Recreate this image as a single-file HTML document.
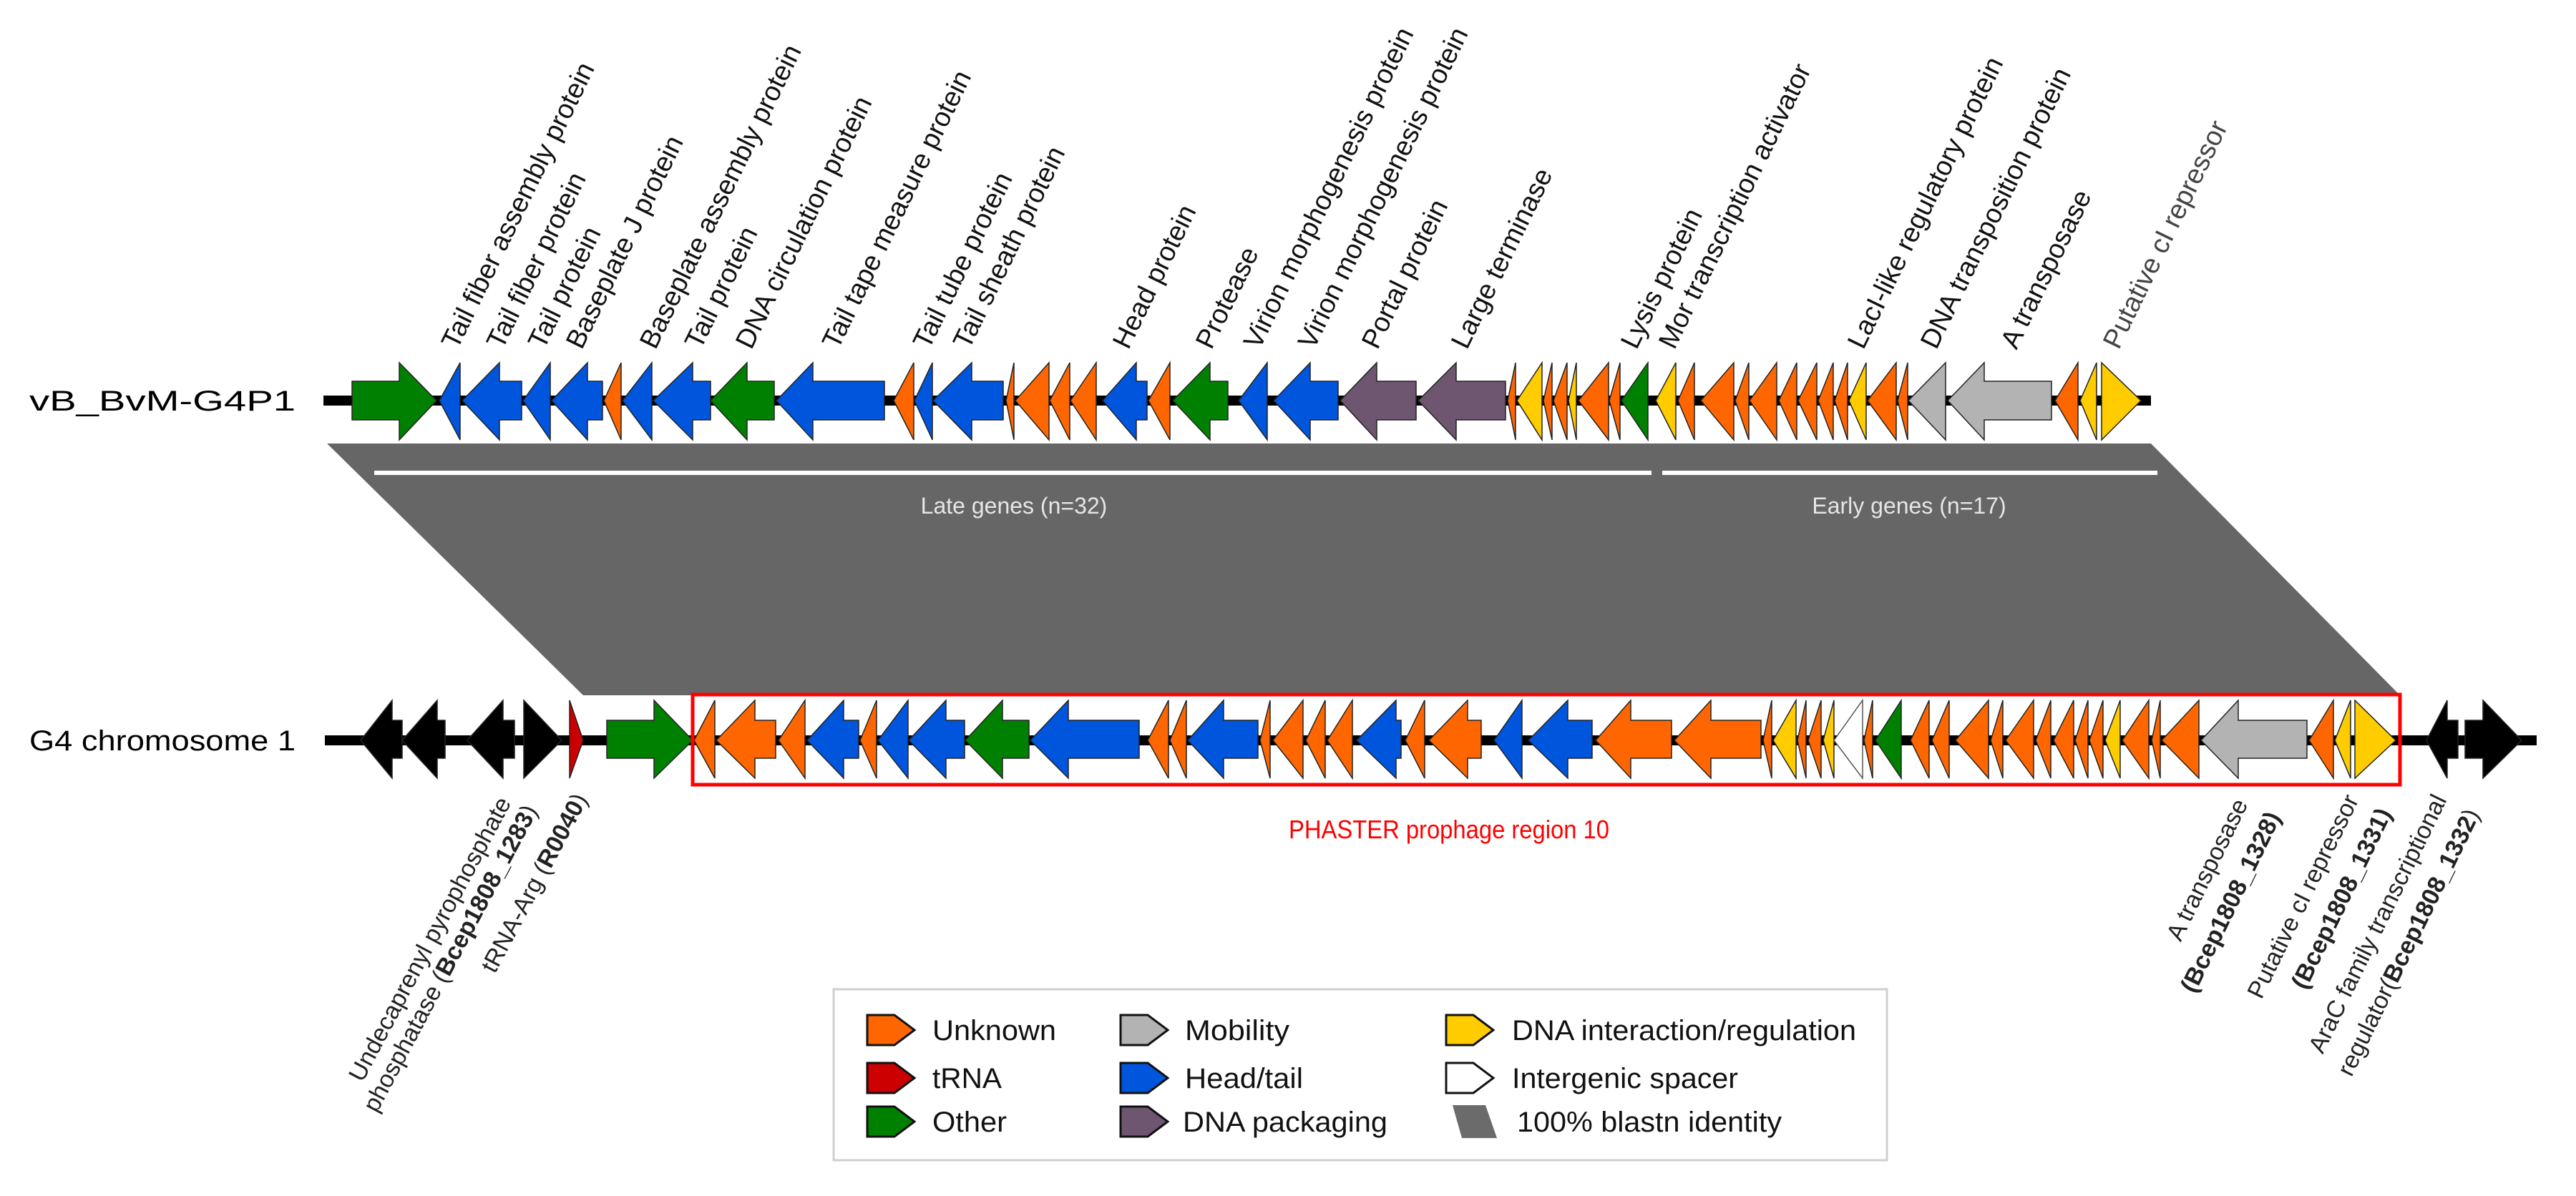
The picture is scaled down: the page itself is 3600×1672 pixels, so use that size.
<!DOCTYPE html>
<html><head><meta charset="utf-8"><style>
html,body{margin:0;padding:0;background:#fff}
svg{display:block}
text{font-family:"Liberation Sans",Arial,sans-serif}
</style></head><body>
<svg width="3600" height="1672" viewBox="0 0 3600 1672" xmlns="http://www.w3.org/2000/svg">
<rect width="3600" height="1672" fill="#fff"/>
<!-- band -->
<polygon points="457,620 3006,620 3354,972 815,972" fill="#666666"/>
<rect x="523" y="658" width="1785" height="6" fill="#fff"/>
<rect x="2323" y="658" width="692" height="6" fill="#fff"/>
<text x="1417" y="718" font-size="32" fill="#e6e6e6" text-anchor="middle">Late genes (n=32)</text>
<text x="2668" y="718" font-size="32" fill="#e6e6e6" text-anchor="middle">Early genes (n=17)</text>

<!-- track lines -->
<rect x="452" y="553" width="2554" height="14" fill="#000"/>
<rect x="454" y="1028" width="3091" height="14" fill="#000"/>

<text x="41" y="574" font-size="40" textLength="372" lengthAdjust="spacingAndGlyphs">vB_BvM-G4P1</text>
<text x="41" y="1049" font-size="40" textLength="372" lengthAdjust="spacingAndGlyphs">G4 chromosome 1</text>

<g stroke="#222" stroke-width="1.5" stroke-linejoin="miter">
<!-- TOP TRACK -->
<polygon fill="#008000" points="492,533 558,533 558,507 610,560 558,615 558,587 492,587"/>
<polygon fill="#0055dd" points="614,560 643,507 643,615"/>
<polygon fill="#0055dd" points="646,560 698,507 698,533 729,533 729,587 698,587 698,615"/>
<polygon fill="#0055dd" points="731,560 769,507 769,615"/>
<polygon fill="#0055dd" points="771,560 821,507 821,533 842,533 842,587 821,587 821,615"/>
<polygon fill="#ff6600" points="844,560 868,507 868,615"/>
<polygon fill="#0055dd" points="870,560 911,507 911,615"/>
<polygon fill="#0055dd" points="913,560 968,507 968,533 993,533 993,587 968,587 968,615"/>
<polygon fill="#008000" points="993,560 1044,507 1044,533 1082,533 1082,587 1044,587 1044,615"/>
<polygon fill="#0055dd" points="1085,560 1136,507 1136,533 1236,533 1236,587 1136,587 1136,615"/>
<polygon fill="#ff6600" points="1249,560 1277,507 1277,615"/>
<polygon fill="#0055dd" points="1278,560 1303,507 1303,615"/>
<polygon fill="#0055dd" points="1304,560 1358,507 1358,533 1402,533 1402,587 1358,587 1358,615"/>
<polygon fill="#ff6600" points="1406,560 1417,507 1417,615"/>
<polygon fill="#ff6600" points="1419,560 1466,507 1466,615"/>
<polygon fill="#ff6600" points="1467,560 1495,507 1495,615"/>
<polygon fill="#ff6600" points="1496,560 1532,507 1532,615"/>
<polygon fill="#0055dd" points="1541,560 1588,507 1588,533 1603,533 1603,587 1588,587 1588,615"/>
<polygon fill="#ff6600" points="1605,560 1635,507 1635,615"/>
<polygon fill="#008000" points="1639,560 1691,507 1691,533 1716,533 1716,587 1691,587 1691,615"/>
<polygon fill="#0055dd" points="1731,560 1771,507 1771,615"/>
<polygon fill="#0055dd" points="1780,560 1831,507 1831,533 1870,533 1870,587 1831,587 1831,615"/>
<polygon fill="#6e5570" points="1873,560 1924,507 1924,533 1979,533 1979,587 1924,587 1924,615"/>
<polygon fill="#6e5570" points="1982,560 2035,507 2035,533 2104,533 2104,587 2035,587 2035,615"/>
<polygon fill="#ff6600" points="2107,560 2118,507 2118,615"/>
<polygon fill="#ffcc00" points="2120,560 2155,507 2155,615"/>
<polygon fill="#ff6600" points="2157,560 2169,507 2169,615"/>
<polygon fill="#ff6600" points="2171,560 2190,507 2190,615"/>
<polygon fill="#ffcc00" points="2192,560 2203,507 2203,615"/>
<polygon fill="#ff6600" points="2206,560 2248,507 2248,615"/>
<polygon fill="#ff6600" points="2249,560 2264,507 2264,615"/>
<polygon fill="#008000" points="2266,560 2303,507 2303,615"/>
<polygon fill="#ffcc00" points="2314,560 2342,507 2342,615"/>
<polygon fill="#ff6600" points="2345,560 2368,507 2368,615"/>
<polygon fill="#ff6600" points="2377,560 2423,507 2423,615"/>
<polygon fill="#ff6600" points="2425,560 2444,507 2444,615"/>
<polygon fill="#ff6600" points="2445,560 2483,507 2483,615"/>
<polygon fill="#ff6600" points="2486,560 2511,507 2511,615"/>
<polygon fill="#ff6600" points="2513,560 2539,507 2539,615"/>
<polygon fill="#ff6600" points="2541,560 2562,507 2562,615"/>
<polygon fill="#ff6600" points="2564,560 2582,507 2582,615"/>
<polygon fill="#ffcc00" points="2584,560 2608,507 2608,615"/>
<polygon fill="#ff6600" points="2610,560 2650,507 2650,615"/>
<polygon fill="#ff6600" points="2652,560 2666,507 2666,615"/>
<polygon fill="#b3b3b3" points="2667,560 2719,507 2719,615"/>
<polygon fill="#b3b3b3" points="2722,560 2773,507 2773,533 2867,533 2867,587 2773,587 2773,615"/>
<polygon fill="#ff6600" points="2872,560 2904,507 2904,615"/>
<polygon fill="#ffcc00" points="2907,560 2930,507 2930,615"/>
<polygon fill="#ffcc00" points="2937,507 2992,560 2937,615"/>

<!-- BOTTOM TRACK -->
<polygon fill="#000" points="504,1035 548,979 548,1007 562,1007 562,1060 548,1060 548,1088"/>
<polygon fill="#000" points="562,1035 611,979 611,1007 622,1007 622,1060 611,1060 611,1088"/>
<polygon fill="#000" points="653,1035 703,979 703,1007 719,1007 719,1060 703,1060 703,1088"/>
<polygon fill="#000" points="732,979 785,1035 732,1088"/>
<polygon fill="#cc0000" points="796,979 815,1035 796,1088"/>
<polygon fill="#008000" points="848,1007 914,1007 914,979 968,1035 914,1088 914,1060 848,1060"/>
<polygon fill="#ff6600" points="970,1035 999,979 999,1088"/>
<polygon fill="#ff6600" points="1001,1035 1055,979 1055,1007 1084,1007 1084,1060 1055,1060 1055,1088"/>
<polygon fill="#ff6600" points="1088,1035 1125,979 1125,1088"/>
<polygon fill="#0055dd" points="1128,1035 1179,979 1179,1007 1200,1007 1200,1060 1179,1060 1179,1088"/>
<polygon fill="#ff6600" points="1202,1035 1225,979 1225,1088"/>
<polygon fill="#0055dd" points="1227,1035 1269,979 1269,1088"/>
<polygon fill="#0055dd" points="1270,1035 1322,979 1322,1007 1348,1007 1348,1060 1322,1060 1322,1088"/>
<polygon fill="#008000" points="1349,1035 1401,979 1401,1007 1438,1007 1438,1060 1401,1060 1401,1088"/>
<polygon fill="#0055dd" points="1440,1035 1493,979 1493,1007 1592,1007 1592,1060 1493,1060 1493,1088"/>
<polygon fill="#ff6600" points="1604,1035 1633,979 1633,1088"/>
<polygon fill="#ff6600" points="1635,1035 1658,979 1658,1088"/>
<polygon fill="#0055dd" points="1660,1035 1710,979 1710,1007 1758,1007 1758,1060 1710,1060 1710,1088"/>
<polygon fill="#ff6600" points="1761,1035 1775,979 1775,1088"/>
<polygon fill="#ff6600" points="1779,1035 1821,979 1821,1088"/>
<polygon fill="#ff6600" points="1825,1035 1852,979 1852,1088"/>
<polygon fill="#ff6600" points="1855,1035 1890,979 1890,1088"/>
<polygon fill="#0055dd" points="1896,1035 1951,979 1951,1007 1958,1007 1958,1060 1951,1060 1951,1088"/>
<polygon fill="#ff6600" points="1964,1035 1991,979 1991,1088"/>
<polygon fill="#ff6600" points="1997,1035 2051,979 2051,1007 2070,1007 2070,1060 2051,1060 2051,1088"/>
<polygon fill="#0055dd" points="2088,1035 2127,979 2127,1088"/>
<polygon fill="#0055dd" points="2136,1035 2191,979 2191,1007 2225,1007 2225,1060 2191,1060 2191,1088"/>
<polygon fill="#ff6600" points="2230,1035 2279,979 2279,1007 2336,1007 2336,1060 2279,1060 2279,1088"/>
<polygon fill="#ff6600" points="2340,1035 2391,979 2391,1007 2461,1007 2461,1060 2391,1060 2391,1088"/>
<polygon fill="#ff6600" points="2464,1035 2476,979 2476,1088"/>
<polygon fill="#ffcc00" points="2478,1035 2510,979 2510,1088"/>
<polygon fill="#ff6600" points="2512,1035 2524,979 2524,1088"/>
<polygon fill="#ff6600" points="2527,1035 2545,979 2545,1088"/>
<polygon fill="#ffcc00" points="2548,1035 2563,979 2563,1088"/>
<polygon fill="#ffffff" stroke="#555" points="2563,1035 2603,979 2603,1088"/>
<polygon fill="#ff6600" points="2605,1035 2617,979 2617,1088"/>
<polygon fill="#008000" points="2621,1035 2657,979 2657,1088"/>
<polygon fill="#ff6600" points="2670,1035 2696,979 2696,1088"/>
<polygon fill="#ff6600" points="2700,1035 2724,979 2724,1088"/>
<polygon fill="#ff6600" points="2733,1035 2779,979 2779,1088"/>
<polygon fill="#ff6600" points="2782,1035 2799,979 2799,1088"/>
<polygon fill="#ff6600" points="2803,1035 2842,979 2842,1088"/>
<polygon fill="#ff6600" points="2845,1035 2866,979 2866,1088"/>
<polygon fill="#ff6600" points="2870,1035 2898,979 2898,1088"/>
<polygon fill="#ff6600" points="2900,1035 2918,979 2918,1088"/>
<polygon fill="#ff6600" points="2920,1035 2939,979 2939,1088"/>
<polygon fill="#ffcc00" points="2942,1035 2963,979 2963,1088"/>
<polygon fill="#ff6600" points="2966,1035 3003,979 3003,1088"/>
<polygon fill="#ff6600" points="3007,1035 3019,979 3019,1088"/>
<polygon fill="#ff6600" points="3021,1035 3073,979 3073,1088"/>
<polygon fill="#b3b3b3" points="3076,1035 3128,979 3128,1007 3224,1007 3224,1060 3128,1060 3128,1088"/>
<polygon fill="#ff6600" points="3227,1035 3261,979 3261,1088"/>
<polygon fill="#ffcc00" points="3263,1035 3285,979 3285,1088"/>
<polygon fill="#ffcc00" points="3291,979 3348,1035 3291,1088"/>
<polygon fill="#000" points="3391,1035 3420,979 3420,1007 3435,1007 3435,1060 3420,1060 3420,1088"/>
<polygon fill="#000" points="3445,1007 3470,1007 3470,979 3524,1035 3470,1088 3470,1060 3445,1060"/>
</g>

<rect x="968" y="971" width="2386" height="126" fill="none" stroke="#ff0000" stroke-width="5"/>
<text x="2025" y="1172" font-size="36" fill="#ff0000" text-anchor="middle" textLength="448" lengthAdjust="spacingAndGlyphs">PHASTER prophage region 10</text>

<!-- top labels -->
<g font-size="38" fill="#111">
<text x="639" y="490" transform="rotate(-64 639 490)">Tail fiber assembly protein</text>
<text x="702" y="490" transform="rotate(-64 702 490)">Tail fiber protein</text>
<text x="760" y="490" transform="rotate(-64 760 490)">Tail protein</text>
<text x="813" y="490" transform="rotate(-64 813 490)">Baseplate J protein</text>
<text x="916" y="490" transform="rotate(-64 916 490)">Baseplate assembly protein</text>
<text x="979" y="490" transform="rotate(-64 979 490)">Tail protein</text>
<text x="1050" y="490" transform="rotate(-64 1050 490)">DNA circulation protein</text>
<text x="1171" y="490" transform="rotate(-64 1171 490)">Tail tape measure protein</text>
<text x="1298" y="490" transform="rotate(-64 1298 490)">Tail tube protein</text>
<text x="1354" y="490" transform="rotate(-64 1354 490)">Tail sheath protein</text>
<text x="1577" y="490" transform="rotate(-64 1577 490)">Head protein</text>
<text x="1693" y="490" transform="rotate(-64 1693 490)">Protease</text>
<text x="1760" y="490" transform="rotate(-64 1760 490)">Virion morphogenesis protein</text>
<text x="1836" y="490" transform="rotate(-64 1836 490)">Virion morphogenesis protein</text>
<text x="1925" y="490" transform="rotate(-64 1925 490)">Portal protein</text>
<text x="2050" y="490" transform="rotate(-64 2050 490)">Large terminase</text>
<text x="2287" y="490" transform="rotate(-64 2287 490)">Lysis protein</text>
<text x="2340" y="490" transform="rotate(-64 2340 490)">Mor transcription activator</text>
<text x="2604" y="490" transform="rotate(-64 2604 490)">LacI-like regulatory protein</text>
<text x="2706" y="490" transform="rotate(-64 2706 490)">DNA transposition protein</text>
<text x="2818" y="490" transform="rotate(-64 2818 490)">A transposase</text>
<text x="2961" y="490" transform="rotate(-64 2961 490)" fill="#444">Putative  cI repressor</text>
</g>

<!-- bottom labels -->
<g font-size="34" fill="#222" text-anchor="end">
<text x="715" y="1122" transform="rotate(-62 715 1122)">Undecaprenyl pyrophosphate</text>
<text x="752" y="1133" transform="rotate(-62 752 1133)">phosphatase (<tspan font-weight="bold">Bcep1808_1283</tspan>)</text>
<text x="822" y="1117" transform="rotate(-62 822 1117)">tRNA-Arg (<tspan font-weight="bold">R0040</tspan>)</text>
<text x="3142" y="1124" transform="rotate(-64 3142 1124)">A transposase</text>
<text x="3188" y="1142" transform="rotate(-64 3188 1142)" font-weight="bold">(Bcep1808_1328)</text>
<text x="3297" y="1118" transform="rotate(-64 3297 1118)">Putative  cI repressor</text>
<text x="3343" y="1137" transform="rotate(-64 3343 1137)" font-weight="bold">(Bcep1808_1331)</text>
<text x="3420" y="1118" transform="rotate(-64 3420 1118)">AraC family transcriptional</text>
<text x="3466" y="1138" transform="rotate(-64 3466 1138)">regulator(<tspan font-weight="bold">Bcep1808_1332</tspan>)</text>
</g>

<!-- legend -->
<rect x="1165" y="1383" width="1472" height="239" fill="#fff" stroke="#cfcfcf" stroke-width="3"/>
<g stroke="#111" stroke-width="3">
<polygon fill="#ff6600" points="1212,1419 1250,1419 1278,1440 1250,1461 1212,1461"/>
<polygon fill="#cc0000" points="1212,1486 1250,1486 1278,1507 1250,1528 1212,1528"/>
<polygon fill="#008000" points="1212,1547 1250,1547 1278,1568 1250,1589 1212,1589"/>
<polygon fill="#b3b3b3" points="1566,1419 1604,1419 1632,1440 1604,1461 1566,1461"/>
<polygon fill="#0055dd" points="1566,1486 1604,1486 1632,1507 1604,1528 1566,1528"/>
<polygon fill="#6e5570" points="1566,1547 1604,1547 1632,1568 1604,1589 1566,1589"/>
<polygon fill="#ffcc00" points="2021,1419 2059,1419 2087,1440 2059,1461 2021,1461"/>
<polygon fill="#ffffff" points="2021,1486 2059,1486 2087,1507 2059,1528 2021,1528"/>
</g>
<polygon fill="#6b6b6b" points="2030,1545 2076,1545 2092,1591 2043,1591"/>
<g font-size="40" fill="#111">
<text x="1303" y="1454" textLength="173" lengthAdjust="spacingAndGlyphs">Unknown</text>
<text x="1303" y="1521" textLength="97" lengthAdjust="spacingAndGlyphs">tRNA</text>
<text x="1303" y="1582" textLength="104" lengthAdjust="spacingAndGlyphs">Other</text>
<text x="1656" y="1454" textLength="146" lengthAdjust="spacingAndGlyphs">Mobility</text>
<text x="1656" y="1521" textLength="165" lengthAdjust="spacingAndGlyphs">Head/tail</text>
<text x="1653" y="1582" textLength="286" lengthAdjust="spacingAndGlyphs">DNA packaging</text>
<text x="2113" y="1454" textLength="481" lengthAdjust="spacingAndGlyphs">DNA interaction/regulation</text>
<text x="2113" y="1521" textLength="316" lengthAdjust="spacingAndGlyphs">Intergenic spacer</text>
<text x="2120" y="1582" textLength="370" lengthAdjust="spacingAndGlyphs">100% blastn identity</text>
</g>
</svg>
</body></html>
